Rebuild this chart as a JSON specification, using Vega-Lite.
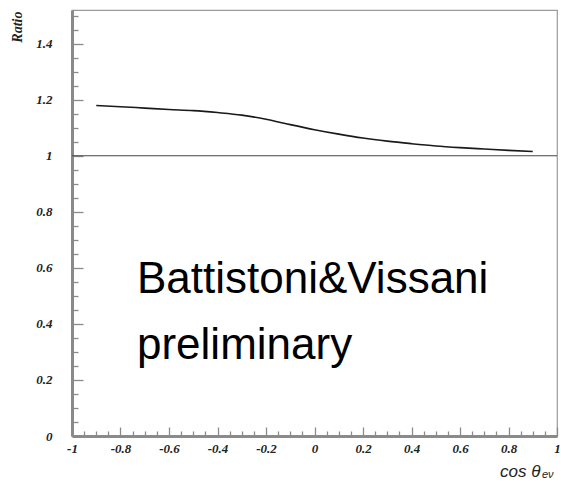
{
  "$schema": "https://vega.github.io/schema/vega-lite/v6.json",
  "width": 485,
  "height": 426,
  "autosize": {"type": "none"},
  "padding": {"left": 72, "top": 10, "right": 4, "bottom": 46},
  "background": "white",
  "config": {
    "view": {"stroke": "#9a9a9a", "strokeWidth": 1.2},
    "axis": {
      "grid": false,
      "domainColor": "#8a8a8a",
      "domainWidth": 3,
      "tickColor": "#8a8a8a",
      "tickWidth": 1.3,
      "labelFont": "Liberation Serif",
      "labelFontStyle": "italic",
      "labelFontWeight": "bold",
      "labelFontSize": 13,
      "labelColor": "#222222",
      "titleFont": "Liberation Serif",
      "titleFontStyle": "italic",
      "titleFontWeight": "normal",
      "titleColor": "#222222"
    }
  },
  "resolve": {"axis": {"x": "independent", "y": "independent"}},
  "layer": [
    {
      "data": {"values": [
        {"cos": -0.9, "ratio": 1.179},
        {"cos": -0.8, "ratio": 1.175},
        {"cos": -0.7, "ratio": 1.17},
        {"cos": -0.6, "ratio": 1.165},
        {"cos": -0.5, "ratio": 1.161},
        {"cos": -0.4, "ratio": 1.154},
        {"cos": -0.3, "ratio": 1.145},
        {"cos": -0.2, "ratio": 1.13},
        {"cos": -0.1, "ratio": 1.111},
        {"cos": 0.0, "ratio": 1.093},
        {"cos": 0.1, "ratio": 1.077},
        {"cos": 0.2, "ratio": 1.063},
        {"cos": 0.3, "ratio": 1.052},
        {"cos": 0.4, "ratio": 1.043},
        {"cos": 0.5, "ratio": 1.035},
        {"cos": 0.6, "ratio": 1.029},
        {"cos": 0.7, "ratio": 1.024},
        {"cos": 0.8, "ratio": 1.019},
        {"cos": 0.9, "ratio": 1.015}
      ]},
      "mark": {"type": "line", "color": "#1a1a1a", "strokeWidth": 1.6, "interpolate": "monotone"},
      "encoding": {
        "x": {
          "field": "cos", "type": "quantitative",
          "scale": {"domain": [-1, 1], "nice": false, "zero": false},
          "axis": {
            "orient": "bottom",
            "values": [-1,-0.8,-0.6,-0.4,-0.2,0,0.2,0.4,0.6,0.8,1],
            "tickSize": -9,
            "labelExpr": "toString(round(datum.value*10)/10)",
            "labelPadding": 15,
            "labelFlush": false,
            "labelOverlap": false,
            "title": "cos θ",
            "titleFont": "Liberation Sans",
            "titleFontSize": 17,
            "titleX": 468,
            "titleY": 40,
            "titleAlign": "right",
            "titleBaseline": "alphabetic"
          }
        },
        "y": {
          "field": "ratio", "type": "quantitative",
          "scale": {"domain": [0, 1.52], "nice": false, "zero": false},
          "axis": {
            "orient": "left",
            "values": [0,0.2,0.4,0.6,0.8,1,1.2,1.4],
            "tickSize": -11,
            "labelExpr": "toString(round(datum.value*10)/10)",
            "labelPadding": 31,
            "labelFlush": false,
            "labelOverlap": false,
            "title": "Ratio",
            "titleFontSize": 14,
            "titleFontWeight": "bold",
            "titleAngle": -90,
            "titleX": -55,
            "titleY": 1,
            "titleAlign": "right",
            "titleBaseline": "middle"
          }
        }
      }
    },
    {
      "data": {"values": [{"level": 1}]},
      "mark": {"type": "rule", "color": "#444444", "strokeWidth": 1.2},
      "encoding": {"y": {"field": "level", "type": "quantitative", "axis": null}}
    },
    {
      "data": {"values": [
        {"cos": -0.732, "ratio": 0.509, "label": "Battistoni&Vissani"},
        {"cos": -0.732, "ratio": 0.276, "label": "preliminary"}
      ]},
      "mark": {"type": "text", "align": "left", "baseline": "alphabetic", "font": "Liberation Sans", "fontSize": 44, "color": "#000000"},
      "encoding": {
        "x": {"field": "cos", "type": "quantitative", "axis": null},
        "y": {"field": "ratio", "type": "quantitative", "axis": null},
        "text": {"field": "label"}
      }
    },
    {
      "data": {"values": [{"cos": 1, "ratio": 0, "label": "eν"}]},
      "mark": {"type": "text", "align": "left", "baseline": "alphabetic", "font": "Liberation Sans", "fontStyle": "italic", "fontSize": 11, "color": "#222222", "dx": -15, "dy": 42},
      "encoding": {
        "x": {
          "field": "cos", "type": "quantitative",
          "axis": {
            "orient": "bottom",
            "values": [-0.9,-0.7,-0.5,-0.3,-0.1,0.1,0.3,0.5,0.7,0.9,-0.95,-0.85,-0.75,-0.65,-0.55,-0.45,-0.35,-0.25,-0.15,-0.05,0.05,0.15,0.25,0.35,0.45,0.55,0.65,0.75,0.85,0.95],
            "tickSize": -5,
            "labels": false,
            "domain": false,
            "title": null
          }
        },
        "y": {
          "field": "ratio", "type": "quantitative",
          "axis": {
            "orient": "left",
            "values": [0.05,0.1,0.15,0.25,0.3,0.35,0.45,0.5,0.55,0.65,0.7,0.75,0.85,0.9,0.95,1.05,1.1,1.15,1.25,1.3,1.35,1.45,1.5],
            "tickSize": -6,
            "labels": false,
            "domain": false,
            "title": null
          }
        },
        "text": {"field": "label"}
      }
    }
  ]
}
